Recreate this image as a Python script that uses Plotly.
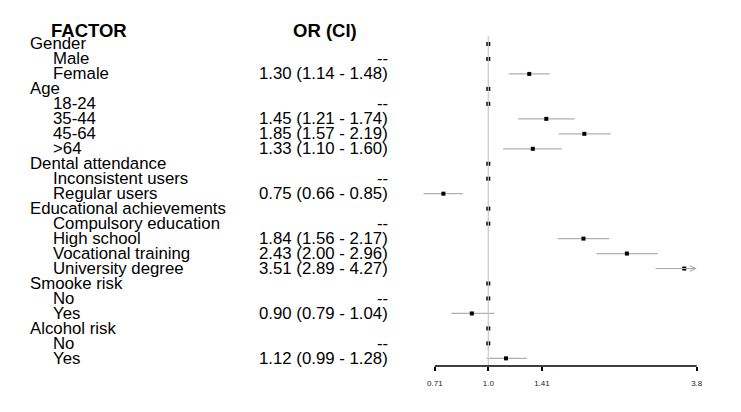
import numpy as np
import plotly.graph_objects as go

# rows of the forest plot, top to bottom
factors = ["Gender", "Male", "Female", "Age", "18-24", "35-44", "45-64", ">64",
           "Dental attendance", "Inconsistent users", "Regular users",
           "Educational achievements", "Compulsory education", "High school",
           "Vocational training", "University degree", "Smooke risk", "No", "Yes",
           "Alcohol risk", "No", "Yes"]
levels = [0, 1, 1, 0, 1, 1, 1, 1, 0, 1, 1, 0, 1, 1, 1, 1, 0, 1, 1, 0, 1, 1]
odds = [1, 1, 1.30, 1, 1, 1.45, 1.85, 1.33, 1, 1, 0.75, 1, 1, 1.84, 2.43, 3.51,
        1, 1, 0.90, 1, 1, 1.12]
ci_low = [None, None, 1.14, None, None, 1.21, 1.57, 1.10, None, None, 0.66, None,
          None, 1.56, 2.00, 2.89, None, None, 0.79, None, None, 0.99]
ci_high = [None, None, 1.48, None, None, 1.74, 2.19, 1.60, None, None, 0.85, None,
           None, 2.17, 2.96, 4.27, None, None, 1.04, None, None, 1.28]
is_ref = [False, True, False, False, True, False, False, False, False, True, False,
          False, True, False, False, False, False, True, False, False, True, False]
tick_vals = [0.71, 1.0, 1.41, 3.8]
tick_text = ["0.71", "1.0", "1.41", "3.8"]

rows = list(range(len(factors)))
x_max = tick_vals[-1]
W, H = 741, 412
paper_w = 692  # page has an 8px body margin, positions below are in figure pixels
plot_top, plot_h = 28, 330

# CI whiskers (the ones beyond the axis end get an arrow instead)
ci_x, ci_y = [], []
arrows = []
for i, lo, hi in zip(rows, ci_low, ci_high):
    if lo is None:
        continue
    if hi > x_max:
        arrows.append((i, lo))
        continue
    ci_x += [lo, hi, None]
    ci_y += [i, i, None]

fig = go.Figure()
fig.add_trace(go.Scatter(x=ci_x, y=ci_y, mode="lines",
                         line=dict(color="#b0b0b0", width=1.2), hoverinfo="skip"))
fig.add_trace(go.Scatter(x=odds, y=rows, mode="markers", cliponaxis=False,
                         marker=dict(symbol="square", size=4, color="black")))

# reference line at OR = 1 and the bottom axis line
fig.add_shape(type="line", xref="x", yref="paper", x0=1, x1=1, y0=0, y1=1,
              line=dict(color="#c8c8c8", width=1.2))
fig.add_shape(type="line", xref="x", yref="paper", x0=tick_vals[0], x1=x_max, y0=0, y1=0,
              line=dict(color="black", width=1.5))

for i, lo in arrows:
    fig.add_annotation(x=np.log10(x_max), y=i, ax=np.log10(lo), ay=i, xref="x", yref="y",
                       axref="x", ayref="y", text="", showarrow=True, arrowhead=5,
                       arrowsize=1, arrowwidth=1.1, arrowcolor="#a8a8a8")

font = "Liberation Sans, Arial, sans-serif"
for i, name, lev in zip(rows, factors, levels):
    fig.add_annotation(x=(20 if lev == 0 else 43) / paper_w, y=i, xref="paper", yref="y",
                       text=name, showarrow=False, xanchor="left",
                       font=dict(family=font, size=16.8, color="black"))

for i, o, lo, hi, ref in zip(rows, odds, ci_low, ci_high, is_ref):
    if ref:
        label = "--"
    elif lo is None:
        continue
    else:
        label = f"{o:.2f} ({lo:.2f} - {hi:.2f})"
    fig.add_annotation(x=382 / paper_w, y=i, xref="paper", yref="y", text=label,
                       showarrow=False, xanchor="right",
                       font=dict(family=font, size=16.8, color="black"))

head_y = 1 + (plot_top - 22) / plot_h
fig.add_annotation(x=41 / paper_w, y=head_y, xref="paper", yref="paper", text="<b>FACTOR</b>",
                   showarrow=False, xanchor="left", yanchor="middle",
                   font=dict(family=font, size=18.5, color="black"))
fig.add_annotation(x=317 / paper_w, y=head_y, xref="paper", yref="paper", text="<b>OR (CI)</b>",
                   showarrow=False, xanchor="center", yanchor="middle",
                   font=dict(family=font, size=18.5, color="black"))

fig.update_layout(
    width=W, height=H, showlegend=False,
    plot_bgcolor="white", paper_bgcolor="white",
    margin=dict(l=0, r=W - paper_w, t=plot_top, b=H - plot_top - plot_h),
    xaxis=dict(type="log", range=[-0.19, 0.589], domain=[412 / paper_w, 1],
               tickvals=tick_vals, ticktext=tick_text, ticks="outside", ticklen=4,
               tickwidth=1.5, tickcolor="black", showline=False, showgrid=False,
               zeroline=False, ticklabelstandoff=5,
               tickfont=dict(family=font, size=8, color="#222")),
    yaxis=dict(range=[21.51, -0.534], visible=False, showgrid=False, zeroline=False),
)

fig.write_html("out.html")
